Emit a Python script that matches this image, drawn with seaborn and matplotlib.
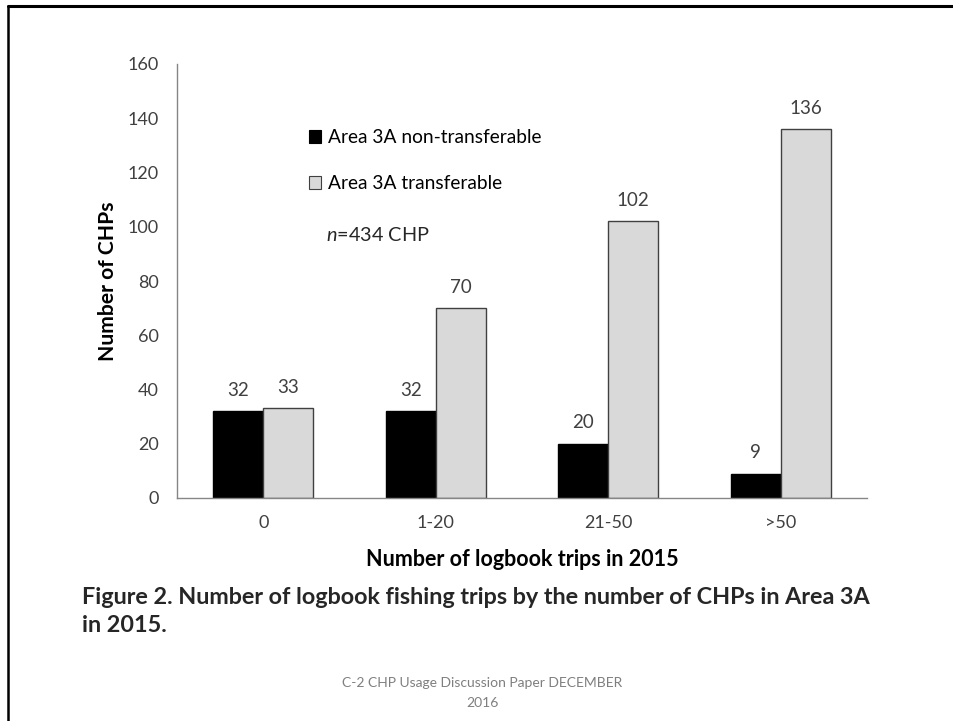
import pandas as pd
import seaborn as sns
import matplotlib
import matplotlib.pyplot as plt
from matplotlib.patches import Patch
from matplotlib.lines import Line2D
matplotlib.use('Agg')

sns.set_theme(style="white")
plt.rcParams['font.family'] = ['Lato', 'DejaVu Sans']
plt.rcParams['mathtext.fontset'] = 'custom'
plt.rcParams['mathtext.it'] = 'Lato:italic'
plt.rcParams['mathtext.rm'] = 'Lato'

# data
trip_bins = ['0', '1-20', '21-50', '>50']
non_transferable = [32, 32, 20, 9]
transferable = [33, 70, 102, 136]
group_names = ['Area 3A non-transferable', 'Area 3A transferable']

df = pd.DataFrame({
    'trips': trip_bins * 2,
    'chps': non_transferable + transferable,
    'group': [group_names[0]] * 4 + [group_names[1]] * 4,
})

text_color = '#404040'
axis_color = '#868686'
bar_colors = ['#000000', '#d9d9d9']
edge_colors = ['#000000', '#404040']

fig = plt.figure(figsize=(9.54, 7.21), dpi=100)
ax = fig.add_axes([177 / 954, 1 - 498 / 721, 690 / 954, 434 / 721])

sns.barplot(data=df, x='trips', y='chps', hue='group', palette=bar_colors,
            width=0.58, saturation=1, ax=ax, legend=False, linewidth=1)

for cont, ec in zip(ax.containers, edge_colors):
    for p in cont:
        p.set_edgecolor(ec)
    ax.bar_label(cont, padding=9, fontsize=13.5, color=text_color)

ax.set_ylim(0, 160)
ax.set_yticks(range(0, 161, 20))
sns.despine(ax=ax, top=True, right=True)
for s in ['left', 'bottom']:
    ax.spines[s].set_color(axis_color)
    ax.spines[s].set_linewidth(1)
ax.tick_params(axis='both', length=0, labelsize=13, labelcolor=text_color)
ax.tick_params(axis='y', pad=13)
ax.tick_params(axis='x', pad=12)

ax.set_xlabel('Number of logbook trips in 2015', fontsize=15.5, fontweight='bold',
              color='black', va='center')
ax.xaxis.set_label_coords(0.5, (498 - 559) / 434)
ax.set_ylabel('Number of CHPs', fontsize=15.2, fontweight='bold', color='black', va='center')
ax.yaxis.set_label_coords((108 - 177) / 690, 0.5)

handles = [Patch(facecolor=bar_colors[0], edgecolor=edge_colors[0], linewidth=0.8),
           Patch(facecolor=bar_colors[1], edgecolor=edge_colors[1], linewidth=0.8)]
ax.legend(handles, group_names, loc='center left', bbox_to_anchor=(309 / 954, 1 - 160.5 / 721),
          bbox_transform=fig.transFigure, frameon=False, fontsize=13.8,
          handlelength=0.65, handleheight=0.65, handletextpad=0.35,
          labelspacing=1.5, borderpad=0, borderaxespad=0, labelcolor='black')

fig.text(326 / 954, 1 - 235 / 721, r'$\it{n}$=434 CHP', fontsize=14.3, va='center', ha='left')

fig.text(82 / 954, 1 - 597 / 721,
         'Figure 2. Number of logbook fishing trips by the number of CHPs in Area 3A',
         fontsize=16.8, fontweight='bold', va='center', ha='left')
fig.text(82 / 954, 1 - 626 / 721, 'in 2015.', fontsize=16.8, fontweight='bold',
         va='center', ha='left')

fig.text(482 / 954, 1 - 683 / 721, 'C-2 CHP Usage Discussion Paper DECEMBER',
         fontsize=10, color='#7f7f7f', ha='center', va='center')
fig.text(482 / 954, 1 - 703 / 721, '2016', fontsize=10, color='#7f7f7f',
         ha='center', va='center')

# slide frame
fig.add_artist(Line2D([8.5 / 954, 1.0], [1 - 5.5 / 721, 1 - 5.5 / 721],
                      transform=fig.transFigure, color='black', linewidth=2.2))
fig.add_artist(Line2D([8.5 / 954, 8.5 / 954], [0.0, 1 - 5.5 / 721],
                      transform=fig.transFigure, color='black', linewidth=1.8))

fig.savefig('out.png', dpi=100)
